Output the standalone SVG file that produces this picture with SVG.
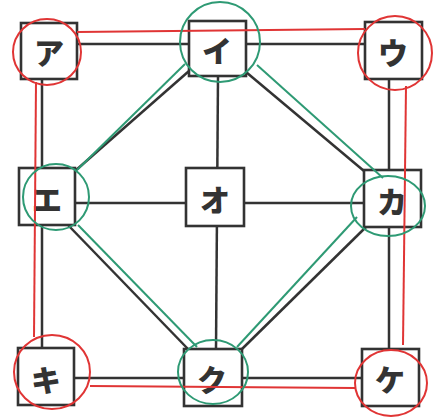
<svg xmlns="http://www.w3.org/2000/svg" width="439" height="417" viewBox="0 0 439 417">
<style>
.edge{stroke:#333;stroke-width:2.5;fill:none}
.box{fill:#fff;stroke:#333;stroke-width:2.6}
.lbl{font-family:"Noto Sans CJK JP","Noto Sans",sans-serif;font-weight:900;font-size:30px;fill:#333;text-anchor:middle;dominant-baseline:central}
.red{stroke:#e03535;stroke-width:2;fill:none}
.green{stroke:#2e9a74;stroke-width:2;fill:none}
</style>
<rect width="439" height="417" fill="#fff"/>
<g id="connectors">
<path class="edge" d="M77 44 H365"/>
<path class="edge" d="M42 79 V348"/>
<path class="edge" d="M389 79 V349"/>
<path class="edge" d="M74 378 H362"/>
<path class="edge" d="M75 203 H364"/>
<path class="edge" d="M218 76 L216 349"/>
<path class="edge" d="M189 71 L75 171"/>
<path class="edge" d="M246 72 L364 171"/>
<path class="edge" d="M68 225 L188 349"/>
<path class="edge" d="M366 227 L242 349"/>
</g>
<g id="node-a"><rect class="box" x="21" y="23" width="56" height="56"/><text class="lbl" x="49" y="51">ア</text></g>
<g id="node-i"><rect class="box" x="189" y="21" width="57" height="55"/><text class="lbl" x="217" y="49">イ</text></g>
<g id="node-u"><rect class="box" x="365" y="22" width="57" height="57"/><text class="lbl" x="393" y="51">ウ</text></g>
<g id="node-e"><rect class="box" x="19" y="168" width="56" height="57"/><text class="lbl" x="47" y="198">エ</text></g>
<g id="node-o"><rect class="box" x="186" y="168" width="58" height="58"/><text class="lbl" x="215" y="198">オ</text></g>
<g id="node-ka"><rect class="box" x="364" y="170" width="57" height="57"/><text class="lbl" x="392" y="200">カ</text></g>
<g id="node-ki"><rect class="box" x="18" y="348" width="56" height="57"/><text class="lbl" x="46" y="378">キ</text></g>
<g id="node-ku"><rect class="box" x="184" y="349" width="58" height="57"/><text class="lbl" x="212" y="378">ク</text></g>
<g id="node-ke"><rect class="box" x="362" y="349" width="57" height="57"/><text class="lbl" x="390" y="378">ケ</text></g>
<g id="highlights">
<path class="red" d="M77 32 L365 29"/>
<path class="red" d="M36 82 L34 337"/>
<path class="red" d="M406 86 L403 345"/>
<path class="red" d="M90 386 L355 388"/>
<path class="green" d="M185 64 L77 170"/>
<path class="green" d="M257 65 L383 178"/>
<path class="green" d="M78 225 L197 347"/>
<path class="green" d="M357 217 L237 347"/>
<ellipse class="red" cx="47" cy="52" rx="34" ry="33"/>
<ellipse class="red" cx="395" cy="53" rx="37" ry="37"/>
<ellipse class="red" cx="52" cy="372" rx="38" ry="37"/>
<ellipse class="red" cx="391" cy="383" rx="36" ry="33"/>
<ellipse class="green" cx="220" cy="42" rx="40" ry="40"/>
<ellipse class="green" cx="56" cy="197" rx="33" ry="33"/>
<ellipse class="green" cx="388" cy="206" rx="37" ry="30"/>
<ellipse class="green" cx="213" cy="372" rx="35" ry="32"/>
</g>
</svg>
